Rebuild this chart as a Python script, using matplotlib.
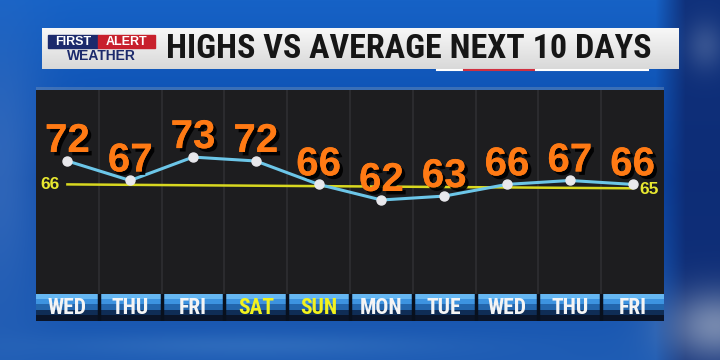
import numpy as np
import matplotlib.pyplot as plt
from matplotlib import patheffects
from matplotlib.patches import Rectangle

days = ['WED', 'THU', 'FRI', 'SAT', 'SUN', 'MON', 'TUE', 'WED', 'THU', 'FRI']
highs = [72, 67, 73, 72, 66, 62, 63, 66, 67, 66]
avg_start = 66
avg_end = 65
weekend = ['SAT', 'SUN']
title = 'HIGHS VS AVERAGE NEXT 10 DAYS'

narrow = ['Roboto Condensed', 'Liberation Sans', 'DejaVu Sans']
wide = ['Liberation Sans', 'DejaVu Sans']

fig = plt.figure(figsize=(7.2, 3.6), dpi=100)
renderer = fig.canvas.get_renderer()


def fit_width(txt, width_px):
    # shrink/grow a text so that it spans the given pixel width
    bb = txt.get_window_extent(renderer)
    txt.set_fontsize(txt.get_fontsize() * width_px / bb.width)


# ---- background (pixel coordinates) ----
bg = fig.add_axes([0, 0, 1, 1])
H, W = 360, 720
yy, xx = np.mgrid[0:H, 0:W].astype(float)

top = np.array([22, 98, 198]) / 255.
mid = np.array([10, 72, 168]) / 255.
bot = np.array([30, 92, 180]) / 255.
t = (yy / H)[..., None]
img = np.where(t < 0.5, top * (1 - 2 * t) + mid * 2 * t, mid * (2 - 2 * t) + bot * (2 * t - 1))


def blend(img, col, a):
    a = a[..., None]
    return img * (1 - a) + np.array(col) / 255. * a


def blob(cx, cy, sx, sy):
    return np.exp(-((xx - cx) / sx) ** 2 - ((yy - cy) / sy) ** 2)


img = blend(img, (14, 40, 110), np.clip((xx - 655) / 30., 0, 1) * 0.85)
img = blend(img, (70, 120, 195), blob(0, 170, 45, 140) * 0.6)
img = blend(img, (90, 115, 165), blob(705, 45, 20, 25) * 0.5)
img = blend(img, (150, 165, 192), blob(715, 325, 50, 35) * 0.75)
img = blend(img, (70, 130, 200), blob(250, 345, 200, 12) * 0.4)
bg.imshow(img, extent=(0, W, H, 0), aspect='auto', zorder=0)

# title bar
bar = np.linspace(0.97, 0.85, 40)[:, None, None] * np.ones((1, 2, 3))
bg.imshow(bar, extent=(42, 679, 69, 28), aspect='auto', zorder=1)
bg.add_patch(Rectangle((48, 35), 50, 13, color='#1c2a6c', zorder=2))
bg.add_patch(Rectangle((98, 35), 57, 13, color='#c8202c', zorder=2))
bg.text(73, 41.8, 'FIRST', color='white', fontsize=9, fontweight='bold',
        family=wide, ha='center', va='center', zorder=3)
bg.text(126.5, 41.8, 'ALERT', color='white', fontsize=9, fontweight='bold',
        family=wide, ha='center', va='center', zorder=3)
bg.text(101, 55.5, 'WEATHER', color='#1c2a6c', fontsize=10, fontweight='bold',
        family=wide, ha='center', va='center', zorder=3)
tt = bg.text(166, 48.5, title, color='#161616', fontsize=22, fontweight='bold',
             family=narrow, ha='left', va='center', zorder=3)
fit_width(tt, 484)
bg.plot([437, 464], [69.5, 69.5], color='white', lw=1.5, zorder=3)
bg.plot([464, 536], [69.5, 69.5], color='#d03040', lw=1.5, zorder=3)
bg.plot([536, 648], [69.5, 69.5], color='white', lw=1.5, zorder=3)

# faint glow at top edge of panel
bg.add_patch(Rectangle((36, 87), 628, 3, color='#6f8fb8', alpha=0.45, lw=0, zorder=1))

bg.set_xlim(0, W)
bg.set_ylim(H, 0)
bg.axis('off')

# ---- chart panel ----
ax = fig.add_axes([36 / 720, 1 - 294 / 360, 628 / 720, 204 / 360])
ax.set_facecolor('#1d1d1f')
x = np.arange(len(highs))
for i in range(len(highs) - 1):
    ax.axvline(i + 0.5, color='#2e2e32', lw=1.2, zorder=1)

ax.plot([x[0], x[-1]], [avg_start, avg_end], color='#d8d820', lw=1.8, zorder=2)
ax.text(-0.28, avg_start, str(avg_start), color='#e8e830', fontsize=12.5,
        fontweight='bold', family=wide, ha='center', va='center', zorder=4)
ax.text(x[-1] + 0.27, avg_end - 0.3, str(avg_end), color='#e8e830', fontsize=12.5,
        fontweight='bold', family=wide, ha='center', va='center', zorder=4)

ax.plot(x, highs, color='#6cc6e8', lw=2.2, zorder=3)
ax.plot(x, highs, 'o', color='#e8e8ec', ms=6.5, zorder=4)

shadow = [patheffects.withSimplePatchShadow(offset=(2.5, -2.5), shadow_rgbFace='black', alpha=0.9),
          patheffects.Normal()]
for xi, v in zip(x, highs):
    ax.annotate(str(v), (xi, v), xytext=(0, 6.5), textcoords='offset points',
                ha='center', va='baseline', color='#ff7a14', fontsize=29,
                fontweight='bold', family=wide, zorder=5, path_effects=shadow)

ax.set_xlim(-0.5, len(highs) - 0.5)
ax.set_ylim(37.9, 90.2)
ax.set_xticks([])
ax.set_yticks([])
for s in ax.spines.values():
    s.set_visible(False)

# ---- day bar ----
ax2 = fig.add_axes([36 / 720, 1 - 321 / 360, 628 / 720, 27 / 360])
grad = np.array([[0.40, 0.72, 0.95], [0.24, 0.58, 0.88], [0.14, 0.40, 0.68],
                 [0.06, 0.18, 0.34], [0.04, 0.08, 0.16]])[:, None, :]
ax2.imshow(grad, extent=(-0.5, len(days) - 0.5, 0, 1), aspect='auto', zorder=0)
for i in range(len(days) - 1):
    ax2.axvline(i + 0.5, color='#08101e', lw=2.5, zorder=1)
for i, d in enumerate(days):
    c = '#f2f21e' if d in weekend else '#f4f4f4'
    ax2.text(i, 0.47, d, color=c, fontsize=15.5, fontweight='bold', family=narrow,
             ha='center', va='center', zorder=2)
ax2.set_xlim(-0.5, len(days) - 0.5)
ax2.set_ylim(0, 1)
ax2.axis('off')

fig.savefig('out.png', dpi=100)
plt.close(fig)
